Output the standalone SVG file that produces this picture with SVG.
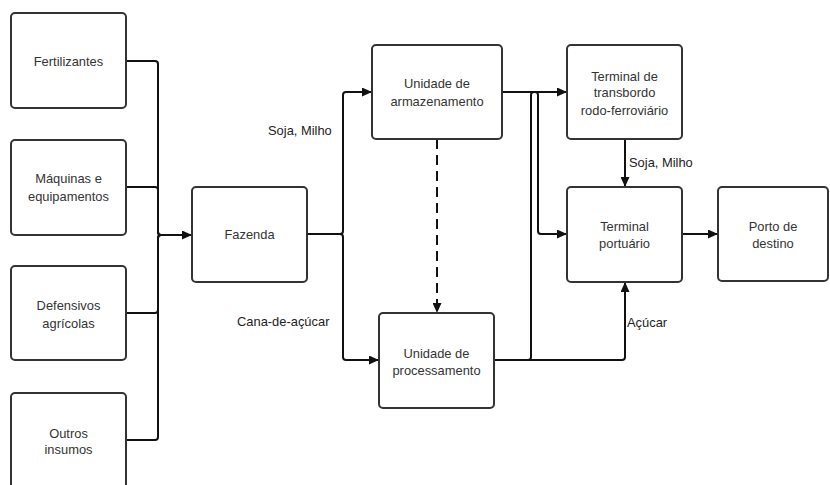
<svg xmlns="http://www.w3.org/2000/svg" width="830" height="485" viewBox="0 0 830 485">
<style>
.box{fill:#fff;stroke:#333;stroke-width:2}
.t{font-family:"Liberation Sans",Arial,sans-serif;font-size:12.9px;fill:#333;text-anchor:middle}
.l{font-family:"Liberation Sans",Arial,sans-serif;font-size:12.9px;fill:#222}
.c{fill:none;stroke:#111;stroke-width:2}
</style>
<defs>
<marker id="a" markerUnits="userSpaceOnUse" markerWidth="11" markerHeight="9" refX="10" refY="4.5" orient="auto"><path d="M0,0 L10,4.5 L0,9 z" fill="#111"/></marker>
</defs>
<rect width="830" height="485" fill="#fff"/>
<g id="connectors">
<path class="c" d="M126,61 H155 Q158,61 158,64 V232 Q158,235 161,235 H192" marker-end="url(#a)"/>
<path class="c" d="M126,187 H155 Q158,187 158,190 V232 Q158,235 161,235 H192"/>
<path class="c" d="M126,313 H155 Q158,313 158,310 V238 Q158,235 161,235 H192"/>
<path class="c" d="M126,440 H155 Q158,440 158,437 V238 Q158,235 161,235 H192"/>
<path class="c" d="M307,234 H340 Q343,234 343,231 V95 Q343,92 346,92 H372" marker-end="url(#a)"/>
<path class="c" d="M307,234 H340 Q343,234 343,237 V357 Q343,360 346,360 H379" marker-end="url(#a)"/>
<path class="c" d="M437,139 V313" stroke-dasharray="10,6" marker-end="url(#a)"/>
<path class="c" d="M502,92 H567" marker-end="url(#a)"/>
<path class="c" d="M502,92 H535 Q538,92 538,95 V231 Q538,234 541,234 H567" marker-end="url(#a)"/>
<path class="c" d="M494,360 H528 Q531,360 531,357 V95 Q531,92 534,92 H567"/>
<path class="c" d="M494,360 H622 Q625,360 625,357 V282" marker-end="url(#a)"/>
<path class="c" d="M625,139 V187" marker-end="url(#a)"/>
<path class="c" d="M682,234 H718" marker-end="url(#a)"/>
<text class="l" x="268" y="135">Soja, Milho</text>
<text class="l" x="237" y="326">Cana-de-açúcar</text>
<text class="l" x="629" y="167">Soja, Milho</text>
<text class="l" x="627" y="327">Açúcar</text>
</g>
<g id="fertilizantes"><rect class="box" x="11" y="13" width="115" height="95" rx="4"/><text class="t" x="68.5" y="65.5">Fertilizantes</text></g>
<g id="maquinas"><rect class="box" x="11" y="140" width="115" height="95" rx="4"/><text class="t" x="68.5" y="182.5">Máquinas e</text><text class="t" x="68.5" y="200.5">equipamentos</text></g>
<g id="defensivos"><rect class="box" x="11" y="266" width="115" height="94" rx="4"/><text class="t" x="68.5" y="309.5">Defensivos</text><text class="t" x="68.5" y="327.5">agrícolas</text></g>
<g id="outros"><rect class="box" x="11" y="393" width="115" height="95" rx="4"/><text class="t" x="68.5" y="437.5">Outros</text><text class="t" x="68.5" y="453.5">insumos</text></g>
<g id="fazenda"><rect class="box" x="192" y="187" width="115" height="95" rx="4"/><text class="t" x="249.5" y="238.5">Fazenda</text></g>
<g id="armazenamento"><rect class="box" x="372" y="45" width="130" height="94" rx="4"/><text class="t" x="437" y="87.5">Unidade de</text><text class="t" x="437" y="105.5">armazenamento</text></g>
<g id="processamento"><rect class="box" x="379" y="313" width="115" height="95" rx="4"/><text class="t" x="436.5" y="357.5">Unidade de</text><text class="t" x="436.5" y="374.5">processamento</text></g>
<g id="transbordo"><rect class="box" x="567" y="45" width="115" height="94" rx="4"/><text class="t" x="624.5" y="80.5">Terminal de</text><text class="t" x="624.5" y="97">transbordo</text><text class="t" x="624.5" y="114.5">rodo-ferroviário</text></g>
<g id="portuario"><rect class="box" x="567" y="187" width="115" height="95" rx="4"/><text class="t" x="624.5" y="230.5">Terminal</text><text class="t" x="624.5" y="247.5">portuário</text></g>
<g id="porto"><rect class="box" x="718" y="187" width="110" height="94" rx="4"/><text class="t" x="773" y="230.5">Porto de</text><text class="t" x="773" y="247.5">destino</text></g>
</svg>
